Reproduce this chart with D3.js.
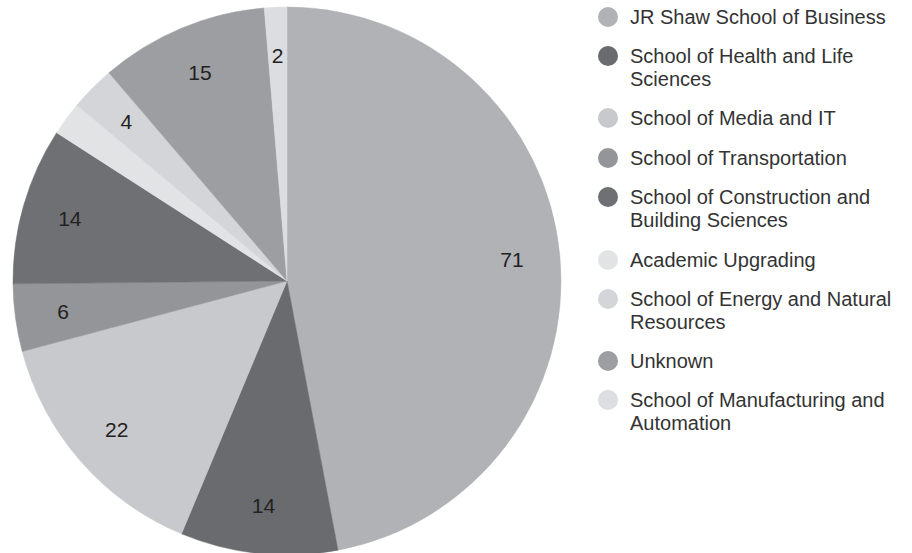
<!DOCTYPE html>
<html>
<head>
<meta charset="utf-8">
<script src="https://cdn.jsdelivr.net/npm/d3@7"></script>
<style>
  body { margin: 0; background: #fff; }
  svg { display: block; font-family: "Liberation Sans", Arial, sans-serif; }
</style>
</head>
<body>
<div id="chart"></div>
<script>
// School breakdown pie with legend on the right

var schools = [
  ["JR Shaw School of Business"],
  ["School of Health and Life", "Sciences"],
  ["School of Media and IT"],
  ["School of Transportation"],
  ["School of Construction and", "Building Sciences"],
  ["Academic Upgrading"],
  ["School of Energy and Natural", "Resources"],
  ["Unknown"],
  ["School of Manufacturing and", "Automation"]
];
var counts = [71, 14, 22, 6, 14, 3, 4, 15, 2];
var showLabel = [true, true, true, true, true, false, true, true, true];
var colors = ["#b1b2b6", "#6a6b6f", "#c8c9cc", "#949599", "#6f7074",
              "#e2e3e5", "#d4d5d8", "#9d9ea2", "#dcdde0"];

var width = 912, height = 553;
var cx = 287, cy = 281, radius = 274;

var svg = d3.select("#chart").append("svg")
    .attr("width", width)
    .attr("height", height);

var data = counts.map(function(c, i) {
  return { name: schools[i], count: c, label: showLabel[i], color: colors[i] };
});

var pie = d3.pie()
    .sort(null)
    .value(function(d) { return d.count; });

var arc = d3.arc().innerRadius(0).outerRadius(radius);
var labelArc = d3.arc().innerRadius(226).outerRadius(226);

var g = svg.append("g")
    .attr("transform", "translate(" + cx + "," + cy + ")");

var slices = g.selectAll(".slice")
    .data(pie(data))
    .enter().append("g")
      .attr("class", "slice");

slices.append("path")
    .attr("d", arc)
    .attr("fill", function(d) { return d.data.color; })
    .attr("stroke", function(d) { return d.data.color; })
    .attr("stroke-width", 0.5);

slices.filter(function(d) { return d.data.label; })
  .append("text")
    .attr("transform", function(d) { return "translate(" + labelArc.centroid(d) + ")"; })
    .attr("text-anchor", "middle")
    .attr("dy", "0.35em")
    .attr("font-size", 21)
    .attr("fill", "#222")
    .text(function(d) { return d.data.count; });

// Legend
var legendY = [17, 56, 118, 158, 197, 260, 299, 361, 400];
var legend = svg.selectAll(".legend")
    .data(data)
    .enter().append("g")
      .attr("class", "legend")
      .attr("transform", function(d, i) { return "translate(608," + legendY[i] + ")"; });

legend.append("circle")
    .attr("r", 10)
    .attr("fill", function(d) { return d.color; });

legend.append("text")
    .attr("font-size", 20)
    .attr("fill", "#333")
    .selectAll("tspan")
    .data(function(d) { return d.name; })
    .enter().append("tspan")
      .attr("x", 22)
      .attr("y", function(d, i) { return i * 23; })
      .attr("dy", "0.35em")
      .text(function(d) { return d; });
</script>
</body>
</html>
